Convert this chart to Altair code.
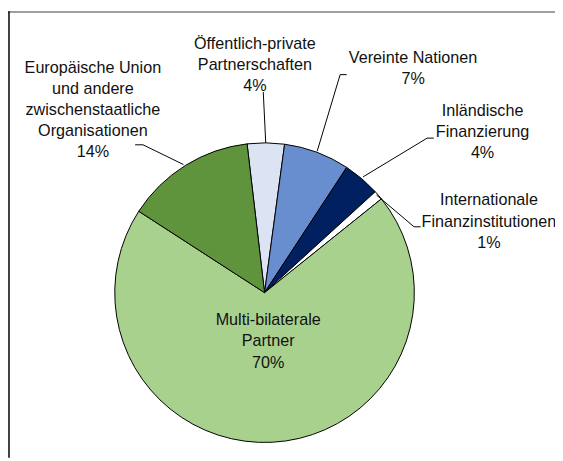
import math
import altair as alt
import pandas as pd

# ---- data ----
categories = [
    "Öffentlich-private Partnerschaften",
    "Vereinte Nationen",
    "Inländische Finanzierung",
    "Internationale Finanzinstitutionen",
    "Multi-bilaterale Partner",
    "Europäische Union und andere zwischenstaatliche Organisationen",
]
shares = [4.0, 7.1, 4.0, 1.0, 69.9, 14.0]
pct_labels = ["4%", "7%", "4%", "1%", "70%", "14%"]
label_text = [
    "Öffentlich-private\nPartnerschaften",
    "Vereinte Nationen",
    "Inländische\nFinanzierung",
    "Internationale\nFinanzinstitutionen",
    "Multi-bilaterale\nPartner",
    "Europäische Union\nund andere\nzwischenstaatliche\nOrganisationen",
]

# ---- style / layout (kept separate from data) ----
colors = ["#DCE3F3", "#698ED0", "#002060", "#FFFFFF", "#A9D18E", "#5F943C"]
W, H = 555, 453
CX, CY, R = 260.3, 285.5, 152
START = math.radians(-6.7)
FONT = "Liberation Sans"
FS = 16.4
LH = 21.4

# label anchor (center x, first baseline y) in pixels
label_pos = [
    (250.5, 38.0),
    (411.0, 52.0),
    (481.5, 106.3),
    (488.0, 197.0),
    (264.0, 318.7),
    (86.1, 62.7),
]
# leader lines (polylines, pixels)
leaders = [
    [(259.0, 82.0), (261.5, 133.5)],
    [(343.7, 64.3), (337.0, 64.3), (313.7, 142.0)],
    [(432.0, 128.7), (425.3, 128.7), (360.3, 168.0)],
    [(418.7, 218.7), (412.0, 218.7), (374.0, 186.5)],
    None,
    [(129.0, 135.5), (137.0, 135.5), (178.0, 155.5)],
]

pie_df = pd.DataFrame({
    "cat": categories,
    "share": shares,
    "idx": list(range(len(categories))),
})

lab_df = pd.DataFrame({
    "text": [t + "\n" + p for t, p in zip(label_text, pct_labels)],
    "x": [p[0] for p in label_pos],
    "y": [p[1] for p in label_pos],
})

rows = []
for i, pts in enumerate(leaders):
    if pts is None:
        continue
    for j, (x, y) in enumerate(pts):
        rows.append({"seg": i, "k": j, "x": x, "y": y})
lead_df = pd.DataFrame(rows)

pie = alt.Chart(pie_df).mark_arc(
    stroke="#000000", strokeWidth=1, radius=R
).encode(
    theta=alt.Theta("share:Q", stack=True,
                    scale=alt.Scale(range=[START, START + 2 * math.pi])),
    color=alt.Color("cat:N", scale=alt.Scale(domain=categories, range=colors),
                    legend=None),
    order=alt.Order("idx:Q"),
    x=alt.value(CX),
    y=alt.value(CY),
)

labels = alt.Chart(lab_df).mark_text(
    font=FONT, fontSize=FS, lineBreak="\n", lineHeight=LH,
    align="center", baseline="alphabetic", color="#111111"
).encode(
    x=alt.X("x:Q", scale=None),
    y=alt.Y("y:Q", scale=None),
    text="text:N",
)

lines = alt.Chart(lead_df).mark_line(color="#000000", strokeWidth=1).encode(
    x=alt.X("x:Q", scale=None),
    y=alt.Y("y:Q", scale=None),
    detail="seg:N",
    order="k:Q",
)

one = pd.DataFrame({"a": [0]})
top_border = alt.Chart(one).mark_rule(color="#7F7F7F", strokeWidth=1.5).encode(
    x=alt.value(0), x2=alt.value(W), y=alt.value(0.75)
)
left_border = alt.Chart(one).mark_rule(color="#000000", strokeWidth=1.5).encode(
    x=alt.value(1), y=alt.value(0), y2=alt.value(H)
)

chart = alt.layer(pie, lines, labels, top_border, left_border).properties(
    width=W, height=H,
    autosize=alt.AutoSizeParams(type="none"),
    padding=0,
    background="#FFFFFF",
).configure_view(stroke=None)

chart.save("out.html", embed_options={"renderer": "svg", "actions": False})
